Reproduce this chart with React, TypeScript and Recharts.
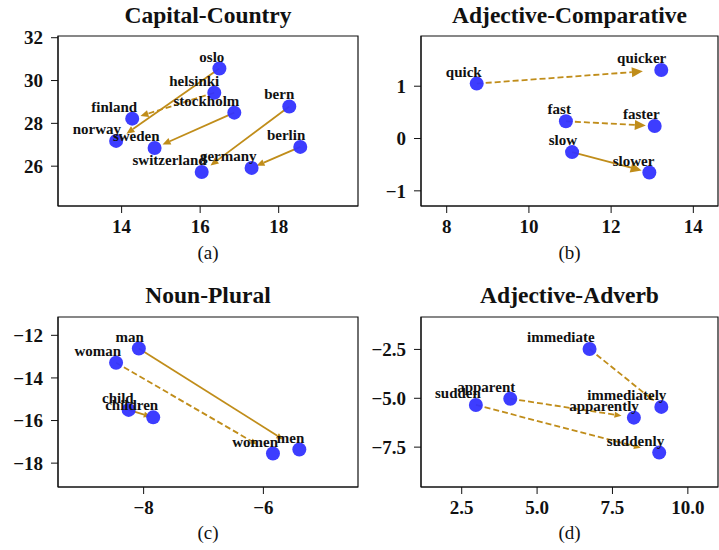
import React from "react";
import { ReferenceArea, ReferenceLine, Scatter, ScatterChart, XAxis, YAxis } from "recharts";

// (a) Capital-Country
const capitalWords = ["oslo", "helsinki", "stockholm", "bern", "berlin"];
const capitalX = [16.49, 16.36, 16.87, 18.27, 18.55];
const capitalY = [30.56, 29.43, 28.5, 28.79, 26.9];
const countryWords = ["norway", "finland", "sweden", "switzerland", "germany"];
const countryX = [13.86, 14.27, 14.84, 16.04, 17.31];
const countryY = [27.18, 28.22, 26.85, 25.73, 25.92];
const countryDashed = [false, true, false, false, false];

// (b) Adjective-Comparative
const adjWords = ["quick", "fast", "slow"];
const adjX = [8.73, 10.9, 11.05];
const adjY = [1.05, 0.33, -0.26];
const compWords = ["quicker", "faster", "slower"];
const compX = [13.22, 13.06, 12.93];
const compY = [1.31, 0.24, -0.65];
const compDashed = [true, true, false];

// (c) Noun-Plural
const nounWords = ["man", "woman", "child"];
const nounX = [-8.08, -8.46, -8.25];
const nounY = [-12.62, -13.29, -15.5];
const pluralWords = ["men", "women", "children"];
const pluralX = [-5.4, -5.84, -7.84];
const pluralY = [-17.36, -17.55, -15.85];
const pluralDashed = [false, true, false];

// (d) Adjective-Adverb
const baseWords = ["immediate", "apparent", "sudden"];
const baseX = [6.74, 4.11, 2.97];
const baseY = [-2.48, -5.02, -5.34];
const adverbWords = ["immediately", "apparently", "suddenly"];
const adverbX = [9.12, 8.21, 9.05];
const adverbY = [-5.44, -5.99, -7.78];
const adverbDashed = [true, true, true];

const xTicksA = [14, 16, 18];
const yTicksA = [26, 28, 30, 32];
const xTicksB = [8, 10, 12, 14];
const yTicksB = [-1, 0, 1];
const xTicksC = [-8, -6];
const yTicksC = [-18, -16, -14, -12];
const xTicksD = [2.5, 5.0, 7.5, 10.0];
const yTicksD = [-7.5, -5.0, -2.5];

const FONT = "'Liberation Serif', 'Times New Roman', serif";
const DOT = "#3333ff";
const ARROW = "#c08d1a";
const SHRINK = 0.9; // arrow stops short of the target word

const fmt = (digits: number) => (v: number) =>
  (v < 0 ? "\u2212" : "") + Math.abs(v).toFixed(digits);

function arrowShape(headLen: number, headW: number, dashed: boolean) {
  return (p: any) => {
    const { x1, y1, x2, y2 } = p;
    const dx = x2 - x1;
    const dy = y2 - y1;
    const len = Math.hypot(dx, dy) || 1;
    const ux = dx / len;
    const uy = dy / len;
    const bx = x2 - ux * headLen;
    const by = y2 - uy * headLen;
    const nx = (-uy * headW) / 2;
    const ny = (ux * headW) / 2;
    return (
      <g>
        <line
          x1={x1}
          y1={y1}
          x2={bx}
          y2={by}
          stroke={ARROW}
          strokeWidth={1.8}
          strokeDasharray={dashed ? "6 3" : undefined}
        />
        <polygon points={`${x2},${y2} ${bx + nx},${by + ny} ${bx - nx},${by - ny}`} fill={ARROW} />
      </g>
    );
  };
}

const dotShape = (p: any) => (
  <circle cx={p.cx} cy={p.cy} r={7} fill={DOT} fillOpacity={0.95} />
);

const labelShape = (p: any) => (
  <text
    x={p.cx + 5}
    y={p.cy - 7}
    textAnchor="end"
    fontSize={15}
    fontWeight={700}
    fontFamily={FONT}
    fill="#111"
  >
    {p.payload?.word ?? p.word}
  </text>
);

interface PanelProps {
  left: number;
  top: number;
  width: number;
  yAxisWidth: number;
  marginTop: number;
  xAxisHeight: number;
  xDomain: [number, number];
  yDomain: [number, number];
  xTicks: number[];
  yTicks: number[];
  digits: number;
  fromWords: string[];
  fromX: number[];
  fromY: number[];
  toWords: string[];
  toX: number[];
  toY: number[];
  dashed: boolean[];
  headLen: number;
  headW: number;
}

function Panel(props: PanelProps) {
  const points = [
    ...props.fromWords.map((w, i) => ({ word: w, x: props.fromX[i], y: props.fromY[i] })),
    ...props.toWords.map((w, i) => ({ word: w, x: props.toX[i], y: props.toY[i] })),
  ];
  const tickStyle = { fill: "#111", fontSize: 19, fontWeight: 700, fontFamily: FONT };
  return (
    <div style={{ position: "absolute", left: props.left, top: props.top }}>
      <ScatterChart
        width={props.width}
        height={250}
        margin={{ top: props.marginTop, right: props.width === 360 ? 2 : 1, left: 0, bottom: 0 }}
      >
        <XAxis
          type="number"
          dataKey="x"
          domain={props.xDomain}
          allowDataOverflow
          ticks={props.xTicks}
          tickFormatter={fmt(props.digits)}
          height={props.xAxisHeight}
          tick={tickStyle}
          tickSize={7}
          tickMargin={7}
          tickLine={{ stroke: "#111" }}
          axisLine={{ stroke: "#111" }}
        />
        <YAxis
          type="number"
          dataKey="y"
          domain={props.yDomain}
          allowDataOverflow
          ticks={props.yTicks}
          tickFormatter={fmt(props.digits)}
          width={props.yAxisWidth}
          tick={tickStyle}
          tickSize={7}
          tickMargin={8}
          tickLine={{ stroke: "#111" }}
          axisLine={{ stroke: "#111" }}
        />
        <ReferenceArea
          x1={props.xDomain[0]}
          x2={props.xDomain[1]}
          y1={props.yDomain[0]}
          y2={props.yDomain[1]}
          fill="none"
          fillOpacity={0}
          stroke="#111"
          strokeWidth={1.2}
          ifOverflow="visible"
        />
        <Scatter data={points} shape={dotShape} isAnimationActive={false} />
        {props.fromWords.map((w, i) => {
          const ex = props.fromX[i] + SHRINK * (props.toX[i] - props.fromX[i]);
          const ey = props.fromY[i] + SHRINK * (props.toY[i] - props.fromY[i]);
          return (
            <ReferenceLine
              key={w}
              segment={[
                { x: props.fromX[i], y: props.fromY[i] },
                { x: ex, y: ey },
              ]}
              ifOverflow="visible"
              shape={arrowShape(props.headLen, props.headW, props.dashed[i])}
            />
          );
        })}
        <Scatter data={points} shape={labelShape} isAnimationActive={false} />
      </ScatterChart>
    </div>
  );
}

const titles = [
  { text: "Capital-Country", x: 208, y: 22.5 },
  { text: "Adjective-Comparative", x: 569.5, y: 22.5 },
  { text: "Noun-Plural", x: 208, y: 303 },
  { text: "Adjective-Adverb", x: 569.5, y: 303 },
];
const captions = [
  { text: "(a)", x: 208, y: 259 },
  { text: "(b)", x: 569.5, y: 259 },
  { text: "(c)", x: 208, y: 539 },
  { text: "(d)", x: 569.5, y: 539 },
];

export default function App() {
  return (
    <div
      style={{
        position: "absolute",
        left: 0,
        top: 0,
        width: 719,
        height: 550,
        background: "#fff",
        fontFamily: FONT,
      }}
    >
      <Panel
        left={0}
        top={0}
        width={360}
        yAxisWidth={58}
        marginTop={36}
        xAxisHeight={44}
        xDomain={[12.38, 20.02]}
        yDomain={[24.14, 32.08]}
        xTicks={xTicksA}
        yTicks={yTicksA}
        digits={0}
        fromWords={capitalWords}
        fromX={capitalX}
        fromY={capitalY}
        toWords={countryWords}
        toX={countryX}
        toY={countryY}
        dashed={countryDashed}
        headLen={8}
        headW={7}
      />
      <Panel
        left={360}
        top={0}
        width={359}
        yAxisWidth={61}
        marginTop={36}
        xAxisHeight={44}
        xDomain={[7.375, 14.6]}
        yDomain={[-1.29, 1.96]}
        xTicks={xTicksB}
        yTicks={yTicksB}
        digits={0}
        fromWords={adjWords}
        fromX={adjX}
        fromY={adjY}
        toWords={compWords}
        toX={compX}
        toY={compY}
        dashed={compDashed}
        headLen={11}
        headW={10}
      />
      <Panel
        left={0}
        top={280}
        width={360}
        yAxisWidth={58}
        marginTop={37}
        xAxisHeight={43}
        xDomain={[-9.43, -4.42]}
        yDomain={[-19.12, -11.14]}
        xTicks={xTicksC}
        yTicks={yTicksC}
        digits={0}
        fromWords={nounWords}
        fromX={nounX}
        fromY={nounY}
        toWords={pluralWords}
        toX={pluralX}
        toY={pluralY}
        dashed={pluralDashed}
        headLen={7}
        headW={6}
      />
      <Panel
        left={360}
        top={280}
        width={359}
        yAxisWidth={61}
        marginTop={37}
        xAxisHeight={43}
        xDomain={[1.15, 11.0]}
        yDomain={[-9.54, -0.84]}
        xTicks={xTicksD}
        yTicks={yTicksD}
        digits={1}
        fromWords={baseWords}
        fromX={baseX}
        fromY={baseY}
        toWords={adverbWords}
        toX={adverbX}
        toY={adverbY}
        dashed={adverbDashed}
        headLen={7}
        headW={6}
      />
      <svg
        width={719}
        height={550}
        style={{ position: "absolute", left: 0, top: 0, pointerEvents: "none" }}
      >
        {titles.map((t) => (
          <text key={t.text} x={t.x} y={t.y} textAnchor="middle" fontSize={23.5} fontWeight={700} fontFamily={FONT} fill="#111">
            {t.text}
          </text>
        ))}
        {captions.map((t) => (
          <text key={t.text} x={t.x} y={t.y} textAnchor="middle" fontSize={19} fontFamily={FONT} fill="#111">
            {t.text}
          </text>
        ))}
      </svg>
    </div>
  );
}
